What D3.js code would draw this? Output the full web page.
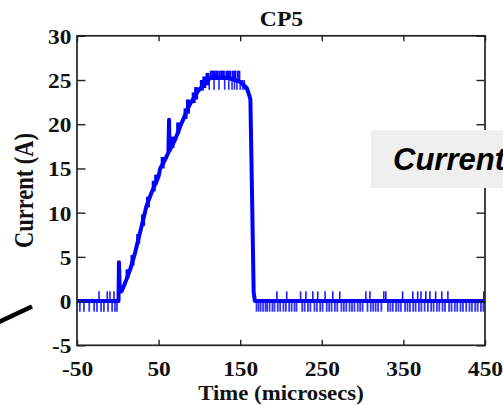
<!DOCTYPE html>
<html lang="en">
<head>
<meta charset="utf-8">
<title>CP5</title>
<script src="https://cdn.jsdelivr.net/npm/d3@7"></script>
<style>
  body { margin: 0; background: #fff; }
</style>
</head>
<body>
<script>
// trace (time in microsecs, current in A)
var traceT = [-50, 0.9, 1.4, 2.4, 4.5, 8.8, 14.9, 21, 29, 35, 41, 50, 52, 58, 62, 62.8, 63.4, 64.2, 70, 78, 88, 98, 108, 113, 125, 137, 150, 158, 161, 162.5, 164, 166.5, 168, 450];
var traceI = [0, 0, 4.4, 1.3, 1.1, 2.0, 3.5, 5.4, 8.4, 10.7, 12.2, 14.1, 15.0, 16.0, 16.8, 20.5, 17.0, 17.2, 18.2, 20.1, 22.2, 23.7, 24.8, 25.2, 25.3, 25.2, 24.8, 24.1, 23.3, 22.8, 14.8, 1.0, 0, 0];

// jitter on the ramp (low / high of each blob)
var rampT  = [12, 18, 25, 31, 37, 44, 47, 55, 67, 74, 83, 86, 93, 96, 103, 106, 110];
var rampLo = [2.6, 4.0, 6.5, 8.5, 10.6, 12.4, 13.2, 15.0, 17.3, 18.9, 20.6, 21.2, 22.4, 22.8, 23.8, 24.1, 24.4];
var rampHi = [3.6, 5.2, 7.6, 9.8, 11.8, 13.6, 14.3, 16.3, 18.6, 20.2, 21.8, 22.8, 23.6, 24.2, 25.0, 25.4, 25.8];

// noise on the flat top
var topUpT   = [114, 116, 117.5, 119, 121, 122.5, 125, 127, 128.5, 130, 133, 135, 136.5, 138, 141, 143, 144, 147, 149];
var topDownT = [112, 118, 124, 131, 136, 140, 143, 146, 150, 153, 155];
var topHigh = 26.05, topLow = 23.9;

// noise on the zero line
var baseUpT = [-23, -12.9, -9.6, -4.7, 195, 207, 224, 230.5, 239, 245, 254, 263.5, 272, 304, 309,
               326, 328.5, 349, 361.5, 367.5, 371.5, 377.5, 382.5, 389.5, 397, 404.5, 448.5];
var baseDownT = [-46.5, -41.5, -35, -29, -25.5, -20.5, -17, -12, -7, -3.5, -1,
                 170, 172.5, 175, 178, 181, 183, 186, 189.5, 192, 196, 199, 203, 206, 210, 213, 216.5,
                 219, 226, 229, 233, 236, 241, 244, 248, 251, 256, 259, 262, 266, 269, 274, 277, 280,
                 284, 287, 290, 294, 297, 300, 306, 310, 313, 316, 319, 323, 331, 334, 337, 341, 344,
                 347, 352, 355, 358, 362, 365, 369, 372, 376, 380, 384, 387, 391, 394, 398, 401, 406,
                 409, 413, 416, 420, 423, 427, 431, 434, 438, 441, 445, 448];
var baseHigh = 1.1, baseLow = -1.2;

var xTicks = [-50, 50, 150, 250, 350, 450];
var xTickLabels = ["-50", "50", "150", "250", "350", "450"];
var yTicks = [-5, 0, 5, 10, 15, 20, 25, 30];
var yTickLabels = ["-5", "0", "5", "10", "15", "20", "25", "30"];

var w = 503, h = 405;
var serif = "'Liberation Serif', 'Times New Roman', serif";
var blue = "#0000ff";

var svg = d3.select("body").append("svg")
    .attr("width", w)
    .attr("height", h);

var x = d3.scaleLinear().domain([-50, 450]).range([77, 485]);
var y = d3.scaleLinear().domain([-5, 30]).range([345.3, 35.8]);

// trace
var line = d3.line()
    .x(function(d) { return x(d[0]); })
    .y(function(d) { return y(d[1]); });

var plot = svg.append("g");

function strokes(ts, lo, hi, cls, width, opacity) {
  plot.selectAll("line." + cls)
      .data(ts.map(function(t, i) { return [t, lo(i), hi(i)]; }))
    .enter().append("line")
      .attr("class", cls)
      .attr("x1", function(d) { return x(d[0]); })
      .attr("x2", function(d) { return x(d[0]); })
      .attr("y1", function(d) { return y(d[1]); })
      .attr("y2", function(d) { return y(d[2]); })
      .attr("stroke", blue)
      .attr("stroke-width", width)
      .attr("stroke-opacity", opacity);
}

strokes(baseDownT, function() { return baseLow; }, function() { return 0; }, "bdown", 1.8, 0.8);
strokes(baseUpT, function() { return 0; }, function() { return baseHigh; }, "bup", 1.6, 0.9);
strokes(topUpT, function() { return 25; }, function() { return topHigh; }, "tup", 2, 0.95);
strokes(topDownT, function() { return topLow; }, function() { return 25; }, "tdown", 1.6, 0.85);
strokes(rampT, function(i) { return rampLo[i]; }, function(i) { return rampHi[i]; }, "ramp", 4, 1);

plot.append("path")
    .datum(traceT.map(function(t, i) { return [t, traceI[i]]; }))
    .attr("d", line)
    .attr("fill", "none")
    .attr("stroke", blue)
    .attr("stroke-width", 4)
    .attr("stroke-linejoin", "round");

// axes, ticks pointing inward on all four sides
function styleAxis(g) {
  g.select(".domain").remove();
  g.selectAll(".tick line").attr("stroke", "#222").attr("stroke-width", 1.4);
  g.attr("font-family", serif).attr("font-size", 20).attr("font-weight", "bold");
}

svg.append("g")
    .attr("transform", "translate(0," + y(-5) + ")")
    .call(d3.axisBottom(x).tickValues(xTicks).tickSizeInner(-5.5).tickSizeOuter(0)
      .tickFormat(function(d, i) { return xTickLabels[i]; }))
    .call(styleAxis)
    .selectAll("text")
      .attr("y", 0).attr("dy", 0)
      .attr("fill", "#111")
      .attr("transform", "translate(0,31) scale(1.17,1)");

svg.append("g")
    .attr("transform", "translate(0," + y(30) + ")")
    .call(d3.axisTop(x).tickValues(xTicks).tickSizeInner(-5.5).tickSizeOuter(0).tickFormat(""))
    .call(styleAxis);

svg.append("g")
    .attr("transform", "translate(" + x(-50) + ",0)")
    .call(d3.axisLeft(y).tickValues(yTicks).tickSizeInner(-8.5).tickSizeOuter(0)
      .tickFormat(function(d, i) { return yTickLabels[i]; }))
    .call(styleAxis)
    .selectAll("text")
      .attr("x", 0).attr("dy", 0)
      .attr("fill", "#111")
      .attr("text-anchor", "end")
      .attr("transform", "translate(-5.5,7.5) scale(1.17,1)");

svg.append("g")
    .attr("transform", "translate(" + x(450) + ",0)")
    .call(d3.axisRight(y).tickValues(yTicks).tickSizeInner(-8.5).tickSizeOuter(0).tickFormat(""))
    .call(styleAxis);

svg.append("rect")
    .attr("x", x(-50))
    .attr("y", y(30))
    .attr("width", x(450) - x(-50))
    .attr("height", y(-5) - y(30))
    .attr("fill", "none")
    .attr("stroke", "#222")
    .attr("stroke-width", 1.7);

// titles (the source picture is a little wider than tall)
function label(tx, ty, str, size, sx, rot) {
  svg.append("text")
      .attr("transform", "translate(" + tx + "," + ty + ") scale(" + sx + ",1)" + (rot ? " rotate(" + rot + ")" : ""))
      .attr("text-anchor", "middle")
      .attr("font-family", serif)
      .attr("font-weight", "bold")
      .attr("font-size", size)
      .attr("fill", "#111")
      .text(str);
}

label(281.5, 26, "CP5", 21.5, 1.1);
label(281, 400, "Time (microsecs)", 20, 1.14);
label(33, 190.5, "Current (A)", 22.5, 1.18, -90);

// slide overlay pieces
svg.append("rect")
    .attr("x", 371).attr("y", 130)
    .attr("width", 140).attr("height", 58)
    .attr("fill", "#efefef");

svg.append("text")
    .attr("x", 393).attr("y", 170)
    .attr("font-family", "'Liberation Sans', Arial, sans-serif")
    .attr("font-weight", "bold")
    .attr("font-style", "italic")
    .attr("font-size", 31)
    .attr("fill", "#000")
    .text("Current");

svg.append("line")
    .attr("x1", -2).attr("y1", 322.5)
    .attr("x2", 32).attr("y2", 306.5)
    .attr("stroke", "#000")
    .attr("stroke-width", 4.5);
</script>
</body>
</html>
